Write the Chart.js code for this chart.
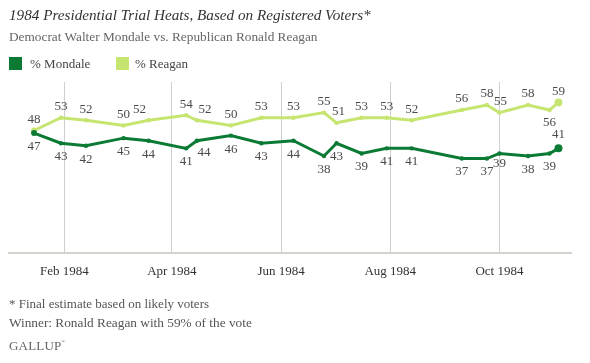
<!DOCTYPE html>
<html>
<head>
<meta charset="utf-8">
<script src="https://cdn.jsdelivr.net/npm/chart.js@4/dist/chart.umd.min.js"></script>
<style>
  html, body { margin: 0; padding: 0; background: #fff; }
  body { width: 590px; height: 363px; position: relative; overflow: hidden; font-family: "Liberation Serif", serif; }
  #wrap { position: absolute; left: 0; top: 0; width: 590px; height: 363px; }
  .t { position: absolute; white-space: nowrap; }
  #title { left: 9px; top: 5px; font-size: 15.2px; font-style: italic; color: #333; line-height: 20px; }
  #sub { left: 9px; top: 29px; font-size: 13.3px; color: #666; line-height: 16px; }
  .sw { position: absolute; width: 13px; height: 13px; top: 57px; }
  .lg { top: 56px; font-size: 13px; color: #444; line-height: 16px; }
  #fn1 { left: 9px; top: 296px; font-size: 13px; color: #555; line-height: 16px; }
  #fn2 { left: 9px; top: 315px; font-size: 13.3px; color: #555; line-height: 16px; }
  #gallup { left: 9px; top: 334px; font-size: 13px; color: #666; line-height: 16px; letter-spacing: 0.2px; }
  #gallup sup { font-size: 5px; vertical-align: 7px; }
</style>
</head>
<body>
<div id="wrap"><canvas id="c" width="590" height="363"></canvas></div>
<div class="t" id="title">1984 Presidential Trial Heats, Based on Registered Voters*</div>
<div class="t" id="sub">Democrat Walter Mondale vs. Republican Ronald Reagan</div>
<div class="sw" style="left:9px;background:#0b7a34"></div>
<div class="t lg" style="left:30px">% Mondale</div>
<div class="sw" style="left:116px;background:#c6e570"></div>
<div class="t lg" style="left:135px">% Reagan</div>
<div class="t" id="fn1">* Final estimate based on likely voters</div>
<div class="t" id="fn2">Winner: Ronald Reagan with 59% of the vote</div>
<div class="t" id="gallup">GALLUP<sup>®</sup></div>
<script>
// ---- data ----
const pollDates = ['1984-01-15','1984-01-30','1984-02-13','1984-03-05','1984-03-19','1984-04-09','1984-04-15','1984-05-04','1984-05-21','1984-06-08','1984-06-25','1984-07-02','1984-07-16','1984-07-30','1984-08-13','1984-09-10','1984-09-24','1984-10-01','1984-10-17','1984-10-29','1984-11-03'];
const mondale = [47,43,42,45,44,41,44,46,43,44,38,43,39,41,41,37,37,39,38,39,41];
const reagan  = [48,53,52,50,52,54,52,50,53,53,55,51,53,53,52,56,58,55,58,56,59];
const tickDates = ['1984-02-01','1984-04-01','1984-06-01','1984-08-01','1984-10-01'];
const tickLabels = ['Feb 1984','Apr 1984','Jun 1984','Aug 1984','Oct 1984'];
const axisStart = '1984-01-01';
const axisEnd = '1984-11-10';

// label placement (style, not data): [dx, dy] overrides per point index
const reaganLabelShift = { 4: [-9, 0], 6: [8, 0], 11: [2, 0], 17: [1, 0], 19: [0, 24] };
const mondaleLabelShift = { 6: [7, -2], 20: [0, -27], 17: [0, -3] };

const DAY = 86400000;
const base = Date.parse(axisStart + 'T00:00:00Z');
const toDay = s => (Date.parse(s + 'T00:00:00Z') - base) / DAY;
const xs = pollDates.map(toDay);
const tickX = tickDates.map(toDay);

const mondalePts = xs.map((x, i) => ({x: x, y: mondale[i]}));
const reaganPts = xs.map((x, i) => ({x: x, y: reagan[i]}));
const n = xs.length;
const radii = xs.map((_, i) => (i === n - 1 ? 4 : (i === 0 ? 3 : 2.2)));

const labelPlugin = {
  id: 'vlabels',
  afterDatasetsDraw(chart) {
    const ctx = chart.ctx;
    ctx.save();
    ctx.font = '13px "Liberation Serif"';
    ctx.fillStyle = '#4a4a4a';
    ctx.textAlign = 'center';
    ctx.textBaseline = 'middle';
    chart.data.datasets.forEach((ds, di) => {
      const meta = chart.getDatasetMeta(di);
      const shifts = di === 1 ? reaganLabelShift : mondaleLabelShift;
      meta.data.forEach((pt, i) => {
        const v = ds.data[i].y;
        const dy0 = di === 1 ? -11 : 13.5;
        const s = shifts[i] || [0, 0];
        ctx.fillText(String(v), pt.x + s[0], pt.y + dy0 + s[1]);
      });
    });
    ctx.restore();
  }
};

new Chart(document.getElementById('c'), {
  type: 'line',
  data: {
    datasets: [
      { label: '% Mondale', data: mondalePts, borderColor: '#0b7a34', backgroundColor: '#0b7a34',
        borderWidth: 3, pointRadius: radii, pointBorderWidth: 0, tension: 0 },
      { label: '% Reagan', data: reaganPts, borderColor: '#c6e570', backgroundColor: '#c6e570',
        borderWidth: 3, pointRadius: radii, pointBorderWidth: 0, tension: 0 }
    ]
  },
  options: {
    responsive: false,
    animation: false,
    events: [],
    layout: { padding: { left: 9, right: 19, top: 82, bottom: 80 } },
    plugins: { legend: { display: false }, tooltip: { enabled: false } },
    scales: {
      x: {
        type: 'linear',
        min: 0,
        max: toDay(axisEnd),
        afterBuildTicks: (scale) => { scale.ticks = tickX.map(v => ({value: v})); },
        afterFit: (scale) => { scale.height = 30; },
        ticks: {
          autoSkip: false,
          maxRotation: 0,
          padding: 11,
          color: '#333',
          font: { family: 'Liberation Serif', size: 13 },
          callback: (val) => { const k = tickX.indexOf(val); return k >= 0 ? tickLabels[k] : ''; }
        },
        grid: { color: '#cfcfcf', lineWidth: 1, drawTicks: false },
        border: { color: '#d3d3ce', width: 2 }
      },
      y: {
        display: false,
        min: 0,
        max: 67
      }
    }
  },
  plugins: [labelPlugin]
});
</script>
</body>
</html>
